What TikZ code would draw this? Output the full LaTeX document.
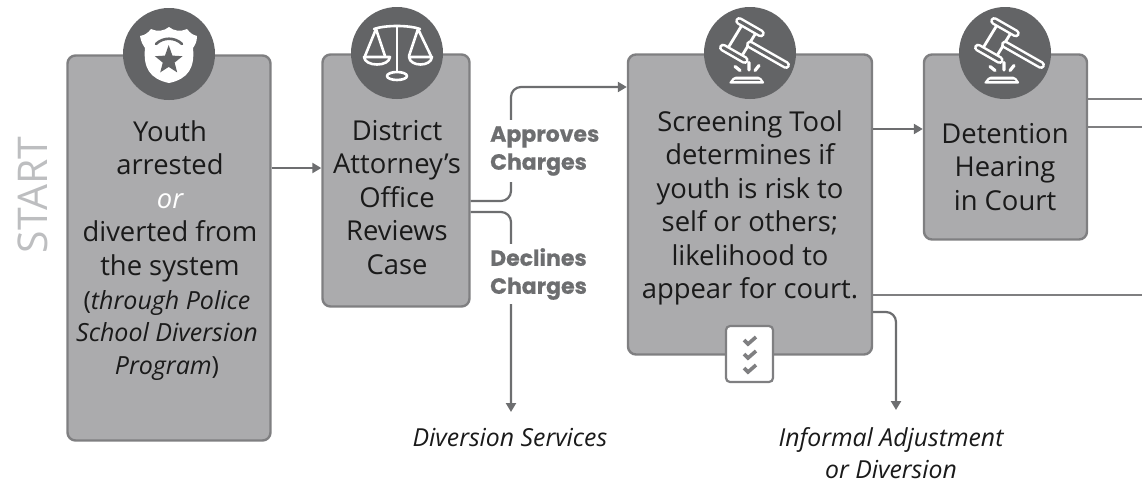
\documentclass[tikz,border=0pt]{standalone}
\usepackage{fontspec}
\setmainfont{Open Sans}
\newfontfamily\labelfont[BoldFeatures={FakeBold=0.5}]{Poppins}
\usetikzlibrary{arrows.meta,calc}
\definecolor{boxfill}{HTML}{ABABAD}
\definecolor{boxline}{HTML}{7F7F81}
\definecolor{disc}{HTML}{636466}
\definecolor{link}{HTML}{6D6E70}
\definecolor{ink}{HTML}{1A1A1A}
\definecolor{startgray}{HTML}{BDBEC0}
\tikzset{
  card/.style={draw=boxline,fill=boxfill,line width=2.4pt,rounded corners=8pt,inner sep=0pt},
  body/.style={text=ink,align=center,font=\fontsize{27.4}{33.5}\selectfont,inner sep=0pt},
  decision/.style={fill=white,text=link,align=left,font=\labelfont\bfseries\fontsize{22}{28}\selectfont,inner xsep=0pt,inner ysep=1pt},
  outcome/.style={text=ink,align=center,font=\itshape\fontsize{24.8}{32}\selectfont,inner sep=0pt},
  conn/.style={draw=link,line width=2.2pt,rounded corners=10pt},
  plainconn/.style={draw=boxline,line width=2.4pt},
  arrowconn/.style={conn,-{Triangle[length=9pt,width=10pt]}},
  disk/.style={circle,fill=disc,minimum size=92pt,inner sep=0pt},
  iconw/.style={draw=white,line width=2.6pt,line cap=round,line join=round},
  pics/gavel/.style={code={
    \draw[iconw,line width=2.8pt] (6.9,-21.8)--(-9.3,4.8) (-6.9,-29.8)--(-23.1,-3.2);
    \draw[white,line width=8pt,line cap=round] (-10.8,-32)--(10.8,-19.6);
    \draw[disc,line width=3pt,line cap=round] (-10.8,-32)--(10.8,-19.6);
    \draw[white,line width=8pt,line cap=round] (-27,-5.4)--(-5.4,7);
    \draw[disc,line width=3pt,line cap=round] (-27,-5.4)--(-5.4,7);
    \draw[white,line width=8pt,line cap=round] (0,-8.5)--(36,12);
    \draw[disc,line width=3pt,line cap=round] (0,-8.5)--(36,12);
    \fill[white,rounded corners=2pt] (-21.5,30.5) -- (15,30.5) -- (10,23.5) -- (-16,23.5) -- cycle;
    \fill[disc] (-15,26.6) -- (9,26.6) -- (10.5,27.8) -- (-16.5,27.8) -- cycle;
    \draw[white,line width=3.2pt,line cap=round]
      (-15,13.5)--(-10,17.5) (-1,9.5)--(-1,17) (9,12.5)--(5,17.5);
  }}
}
\begin{document}
\begin{tikzpicture}[x=1pt,y=-1pt]
\useasboundingbox (0,0) rectangle (1142,480);
% cards
\node[card,minimum width=203pt,minimum height=385pt] (youth) at (169,248) {};
\node[card,minimum width=147pt,minimum height=252pt] (da) at (396,180.5) {};
\node[card,minimum width=244pt,minimum height=300pt] (screen) at (750,204.5) {};
\node[card,minimum width=163pt,minimum height=185pt] (hearing) at (1005.5,147) {};
% icon discs
\node[disk] (d1) at (169,54) {};
\node[disk] (d2) at (397,53) {};
\node[disk] (d3) at (750,53) {};
\node[disk] (d4) at (1005,53) {};
% shield
\fill[white] (169,27) .. controls (174,31) and (180,32) .. (187,29)
  .. controls (190,33) and (193,35) .. (197,36)
  .. controls (197,42) and (195,45) .. (193,48)
  .. controls (195,68) and (188,79) .. (169,83)
  .. controls (150,79) and (143,68) .. (145,48)
  .. controls (143,45) and (141,42) .. (140,36)
  .. controls (145,35) and (148,33) .. (151,29)
  .. controls (158,32) and (164,31) .. (169,27) -- cycle;
\draw[disc,line width=2.6pt,line cap=round] (156,44) .. controls (163,37) and (175,37) .. (182,44);
\fill[disc] (168.7,45) -- (172.4,55.6) -- (182.5,56.2) -- (174.6,62.6) -- (177.2,72.4)
  -- (168.7,66.9) -- (160.2,72.4) -- (162.8,62.6) -- (154.9,56.2) -- (165,55.6) -- cycle;
% scales
\draw[iconw] (397,26)--(397,71);
\draw[iconw] (374,29) .. controls (385,25) and (409,25) .. (420,29);
\draw[iconw] (365,56) -- (376,29) -- (385,56);
\draw[iconw] (409,56) -- (418,29) -- (431,56);
\draw[iconw] (364,57) -- (390,57) .. controls (389,67) and (365,67) .. (364,57) -- cycle;
\draw[iconw] (409,57) -- (432,57) .. controls (431,67) and (410,67) .. (409,57) -- cycle;
\draw[iconw] (397,76) ellipse [x radius=10pt,y radius=4pt];
% gavels
\pic at (750,53) {gavel};
\pic at (1005,53) {gavel};
% texts
\node[text=startgray,rotate=90,font=\fontsize{41}{41}\selectfont,inner sep=0pt] (start) at (33,195) {START};
\node[body,anchor=north] (t1) at (170,120) {Youth\\arrested\\{\color{white}\itshape or}\\diverted from\\the system};
\node[text=ink,align=center,font=\fontsize{25}{32.5}\selectfont,inner sep=0pt,anchor=north] (t1b) at (167,290)
  {(\textit{through Police}\\\textit{School Diversion}\\\textit{Program})};
\node[body,anchor=north] (t2) at (397,120) {District\\Attorney’s\\Office\\Reviews\\Case};
\node[body,anchor=north] (t3) at (750,110) {Screening Tool\\determines if\\youth is risk to\\self or others;\\likelihood to\\appear for court.};
\node[body,anchor=north] (t4) at (1005,123) {Detention\\Hearing\\in Court};
\node[outcome] (divert) at (510,438) {Diversion Services};
\node[outcome] (informal) at (891,453) {Informal Adjustment\\or Diversion};
% off-page ends
\coordinate (out1) at (1142,99);
\coordinate (out2) at (1142,127);
\coordinate (out3) at (1142,295);
% connectors
\draw[arrowconn] (youth.east |- 0,168) -- (da.west |- 0,168);
\draw[arrowconn] (da.east |- 0,201) -- (511,201) -- (511,87) -- (screen.west |- 0,87);
\draw[arrowconn] (da.east |- 0,212) -- (511,212) -- (511,412);
\node[decision,anchor=west,minimum height=62pt,text width=112pt] (approve) at (490,151) {Approves\\Charges};
\node[decision,anchor=west,minimum height=60pt,text width=100pt] (decline) at (490,274) {Declines\\Charges};
\draw[arrowconn] (screen.east |- 0,129) -- (hearing.west |- 0,129);
\draw[plainconn] (hearing.east |- out1) -- (out1);
\draw[plainconn] (hearing.east |- out2) -- (out2);
\draw[plainconn] (screen.east |- out3) -- (out3);
\draw[arrowconn] (screen.east |- 0,312) -- (896,312) -- (896,410);
% checklist
\node[draw=boxline,fill=white,line width=2.2pt,rounded corners=4pt,minimum width=47pt,minimum height=56pt,inner sep=0pt] (check) at (749.5,354) {};
\foreach \yy in {341,355,369}
  \draw[boxline,line width=3.6pt] (744,\yy-1) -- (748,\yy+3) -- (756,\yy-4);
\end{tikzpicture}
\end{document}
